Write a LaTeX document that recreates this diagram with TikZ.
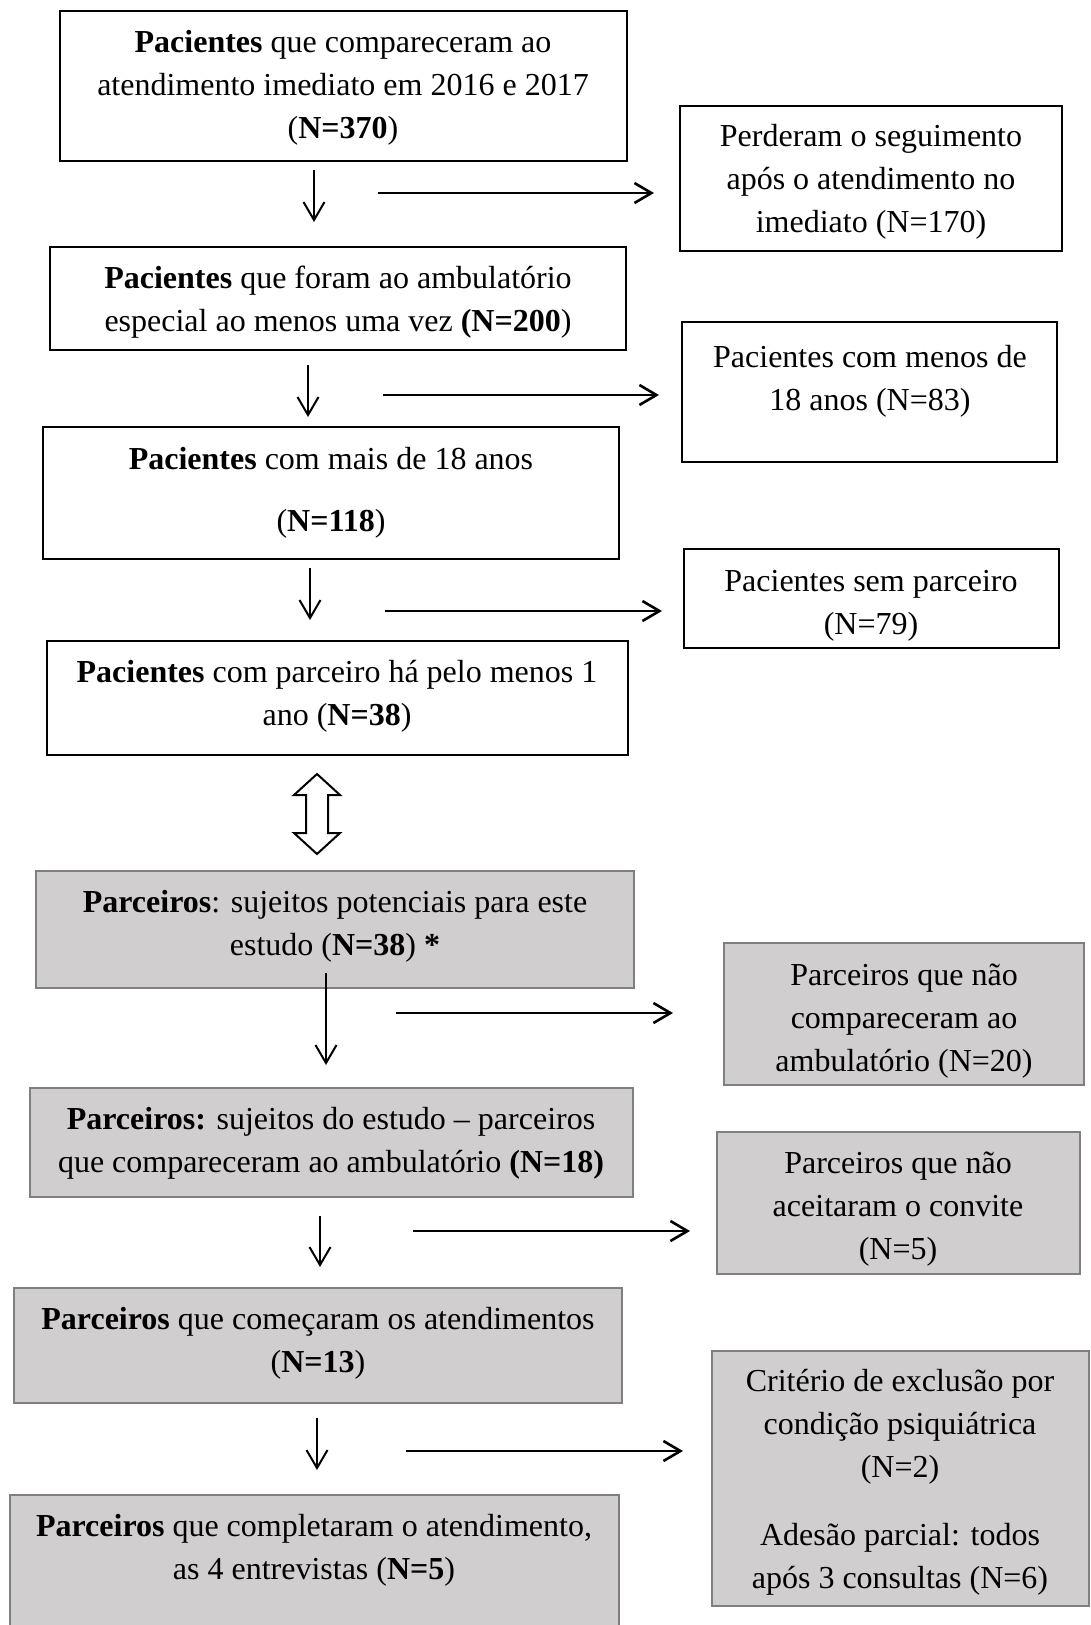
\documentclass[tikz,border=0pt]{standalone}
\usepackage{fontspec}
\setmainfont{Liberation Serif}
\usetikzlibrary{arrows.meta}
\definecolor{grayfill}{HTML}{D0CECE}
\definecolor{boxgray}{HTML}{7F7F7F}
\tikzset{
  wbox/.style={draw=black, line width=2pt, fill=white},
  gbox/.style={draw=boxgray, line width=2.8pt, fill=grayfill},
  txt/.style={font=\fontsize{32}{43}\selectfont, align=center, inner sep=0pt},
  downarrow/.style={line width=2pt, -{Straight Barb[length=18pt,width=21pt]}},
  sidearrow/.style={line width=2.6pt, -{Straight Barb[length=17pt,width=20pt]}},
}
\newcommand\flowbox[6]{\node[#2, inner sep=0pt, minimum width={(#5-#3)*1pt}, minimum height={(#6-#4)*1pt}] (#1) at ({(#3+#5)/2},{(#4+#6)/2}) {};}
\begin{document}
\begin{tikzpicture}[x=1pt,y=-1pt]
\useasboundingbox (0,0) rectangle (1091,1625);
\clip (0,0) rectangle (1091,1625);
% boxes
\flowbox{b1}{wbox}{60}{11}{627}{161}
\flowbox{r1}{wbox}{680}{106}{1062}{251}
\flowbox{b2}{wbox}{50}{247}{626}{350}
\flowbox{r2}{wbox}{682}{322}{1057}{462}
\flowbox{b3}{wbox}{43}{427}{619}{559}
\flowbox{r3}{wbox}{684}{549}{1059}{648}
\flowbox{b4}{wbox}{47}{641}{628}{755}
\flowbox{b5}{gbox}{36}{871}{634}{988}
\flowbox{r5}{gbox}{724}{943}{1084}{1085}
\flowbox{b6}{gbox}{30}{1088}{633}{1197}
\flowbox{r6}{gbox}{717}{1132}{1080}{1274}
\flowbox{b7}{gbox}{14}{1288}{622}{1403}
\flowbox{r7}{gbox}{712}{1351}{1089}{1606}
\flowbox{b8}{gbox}{10}{1495}{619}{1660}
% texts
\node[txt] (t1) at (343,88) {\textbf{Pacientes} que compareceram ao\\ atendimento imediato em 2016 e 2017\\ (\textbf{N=370})};
\node[txt] (tr1) at (871,182) {Perderam o seguimento\\ após o atendimento no\\ imediato (N=170)};
\node[txt] (t2) at (338,302) {\textbf{Pacientes} que foram ao ambulatório\\ especial ao menos uma vez \textbf{(N=200})};
\node[txt] (tr2) at (870,381) {Pacientes com menos de\\ 18 anos (N=83)};
\node[txt] (t3) at (331,493) {\textbf{Pacientes} com mais de 18 anos\\[19pt] (\textbf{N=118})};
\node[txt] (tr3) at (871,606) {Pacientes sem parceiro\\ (N=79)};
\node[txt] (t4) at (337,696) {\textbf{Pacientes} com parceiro há pelo menos 1\\ ano (\textbf{N=38})};
\node[txt] (t5) at (335,926) {\textbf{Parceiros}: sujeitos potenciais para este\\ estudo (\textbf{N=38}) \textbf{*}};
\node[txt] (tr5) at (904,1021) {Parceiros que não\\ compareceram ao\\ ambulatório (N=20)};
\node[txt] (t6) at (331,1143) {\textbf{Parceiros:} sujeitos do estudo – parceiros\\ que compareceram ao ambulatório \textbf{(N=18)}};
\node[txt] (tr6) at (898,1209) {Parceiros que não\\ aceitaram o convite\\ (N=5)};
\node[txt] (t7) at (318,1343) {\textbf{Parceiros} que começaram os atendimentos\\ (\textbf{N=13})};
\node[txt] (tr7) at (900,1482) {Critério de exclusão por\\ condição psiquiátrica\\ (N=2)\\[25pt] Adesão parcial: todos\\ após 3 consultas (N=6)};
\node[txt] (t8) at (314,1550) {\textbf{Parceiros} que completaram o atendimento,\\ as 4 entrevistas (\textbf{N=5})};
% arrow coordinates
\coordinate (a1s) at (314,170); \coordinate (a1e) at (314,222);
\coordinate (a2s) at (308,365); \coordinate (a2e) at (308,417);
\coordinate (a3s) at (310,568); \coordinate (a3e) at (310,620);
\coordinate (a5s) at (326,973); \coordinate (a5e) at (326,1065);
\coordinate (a6s) at (320,1216); \coordinate (a6e) at (320,1267);
\coordinate (a7s) at (317,1418); \coordinate (a7e) at (317,1470);
\coordinate (h1s) at (378,193); \coordinate (h1e) at (654,193);
\coordinate (h2s) at (383,395); \coordinate (h2e) at (659,395);
\coordinate (h3s) at (385,611); \coordinate (h3e) at (662,611);
\coordinate (h5s) at (396,1013); \coordinate (h5e) at (673,1013);
\coordinate (h6s) at (413,1231); \coordinate (h6e) at (690,1231);
\coordinate (h7s) at (406,1451); \coordinate (h7e) at (683,1451);
\draw[downarrow] (a1s) -- (a1e);
\draw[downarrow] (a2s) -- (a2e);
\draw[downarrow] (a3s) -- (a3e);
\draw[downarrow] (a5s) -- (a5e);
\draw[downarrow] (a6s) -- (a6e);
\draw[downarrow] (a7s) -- (a7e);
\draw[sidearrow] (h1s) -- (h1e);
\draw[sidearrow] (h2s) -- (h2e);
\draw[sidearrow] (h3s) -- (h3e);
\draw[sidearrow] (h5s) -- (h5e);
\draw[sidearrow] (h6s) -- (h6e);
\draw[sidearrow] (h7s) -- (h7e);
% double block arrow between b4 and b5
\draw[line width=2pt, fill=white, line join=miter]
  (317,774) -- (340,795) -- (328,795) -- (328,833) -- (340,833) -- (317,854)
  -- (294,833) -- (306,833) -- (306,795) -- (294,795) -- cycle;
\end{tikzpicture}
\end{document}
